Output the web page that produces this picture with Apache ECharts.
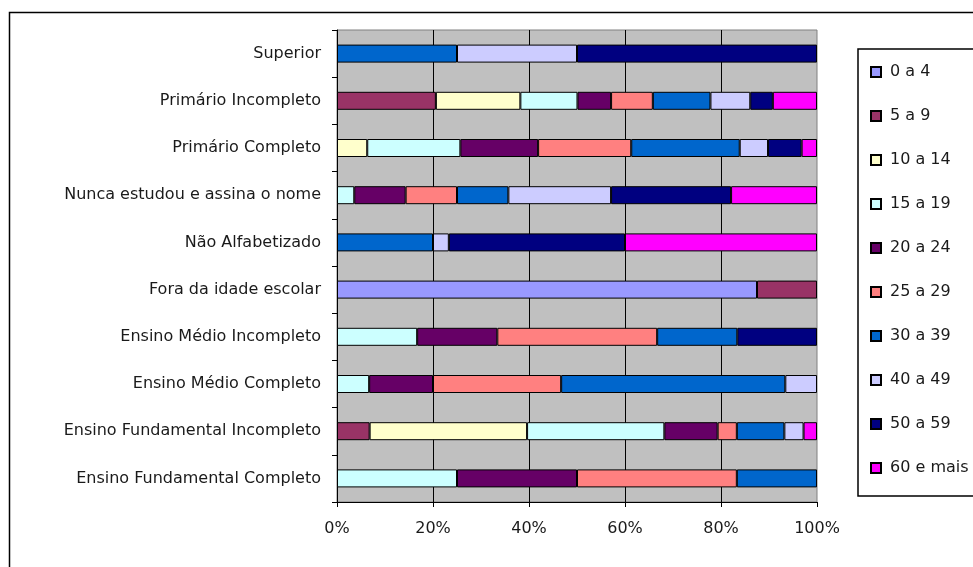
<!DOCTYPE html>
<html>
<head>
<meta charset="utf-8">
<script src="https://cdn.jsdelivr.net/npm/echarts@6/dist/echarts.min.js"></script>
<style>
  html, body { margin: 0; padding: 0; background: #fff; }
  #chart { width: 973px; height: 567px; }
</style>
</head>
<body>
<div id="chart"></div>
<script>
// Education level, listed from the bottom row of the chart to the top
const categories = [
  'Ensino Fundamental Completo',
  'Ensino Fundamental Incompleto',
  'Ensino Médio Completo',
  'Ensino Médio Incompleto',
  'Fora da idade escolar',
  'Não Alfabetizado',
  'Nunca estudou e assina o nome',
  'Primário Completo',
  'Primário Incompleto',
  'Superior'
];

// Age groups (legend order)
const ageGroups = ['0 a 4', '5 a 9', '10 a 14', '15 a 19', '20 a 24', '25 a 29', '30 a 39', '40 a 49', '50 a 59', '60 e mais'];

// Share (%) of each age group within every education level; null = none
const age0to4   = [null, null, null, null, 87.5, null, null, null, null, null];
const age5to9   = [null, 6.8, null, null, 12.5, null, null, null, 20.6, null];
const age10to14 = [null, 32.8, null, null, null, null, null, 6.3, 17.6, null];
const age15to19 = [25, 28.6, 6.7, 16.7, null, null, 3.6, 19.4, 11.9, null];
const age20to24 = [25, 11.1, 13.3, 16.7, null, null, 10.7, 16.2, 7.0, null];
const age25to29 = [33.3, 4.0, 26.7, 33.3, null, null, 10.7, 19.4, 8.7, null];
const age30to39 = [16.7, 9.9, 46.7, 16.7, null, 20, 10.7, 22.6, 12.0, 25];
const age40to49 = [null, 4.0, 6.6, null, null, 3.3, 21.4, 5.9, 8.3, 25];
const age50to59 = [null, null, null, 16.6, null, 36.7, 25, 7.0, 4.7, 50];
const age60plus = [null, 2.8, null, null, null, 40, 17.9, 3.2, 9.2, null];

const seriesValues = [age0to4, age5to9, age10to14, age15to19, age20to24, age25to29, age30to39, age40to49, age50to59, age60plus];

const palette = ['#9999FF', '#993366', '#FFFFCC', '#CCFFFF', '#660066', '#FF8080', '#0066CC', '#CCCCFF', '#000080', '#FF00FF'];

// Percentage axis ticks
const xTicks = { min: 0, max: 100, interval: 20 };

const FONT = 'DejaVu Sans';
const TEXT = '#1a1a1a';

const chart = echarts.init(document.getElementById('chart'), null, { renderer: 'canvas' });

chart.setOption({
  animation: false,
  backgroundColor: '#ffffff',
  textStyle: { fontFamily: FONT, color: TEXT },
  graphic: [{
    type: 'rect',
    left: 7, top: 10,
    shape: { x: 0, y: 0, width: 1000, height: 600 },
    style: { fill: 'none', stroke: '#000', lineWidth: 1.5 },
    silent: true,
    z: -10
  }],
  grid: {
    left: 337, right: 156, top: 30, bottom: 65,
    show: true,
    backgroundColor: '#C0C0C0',
    borderColor: '#808080',
    borderWidth: 1
  },
  legend: {
    orient: 'vertical',
    left: 858, top: 49,
    padding: [15, 30, 20, 12],
    borderColor: '#000',
    borderWidth: 1.5,
    itemWidth: 10, itemHeight: 10,
    itemGap: 28,
    icon: 'rect',
    data: ageGroups,
    textStyle: { fontFamily: FONT, fontSize: 16, lineHeight: 16, color: TEXT, padding: [0, 0, 0, 4] }
  },
  xAxis: {
    type: 'value',
    min: xTicks.min, max: xTicks.max, interval: xTicks.interval,
    axisLine: { show: true, lineStyle: { color: '#000', width: 1 } },
    axisTick: { show: true, length: 5, lineStyle: { color: '#000' } },
    axisLabel: { formatter: '{value}%', fontFamily: FONT, fontSize: 16, color: TEXT, margin: 19 },
    splitLine: { show: true, showMinLine: false, showMaxLine: false, lineStyle: { color: '#000', width: 1 } }
  },
  yAxis: {
    type: 'category',
    data: categories,
    axisLine: { show: true, lineStyle: { color: '#000', width: 1 } },
    axisTick: { show: true, length: 5, lineStyle: { color: '#000' } },
    axisLabel: { fontFamily: FONT, fontSize: 16, color: TEXT, margin: 16 },
    splitLine: { show: false }
  },
  series: ageGroups.map((name, i) => ({
    name: name,
    type: 'bar',
    stack: 'total',
    barWidth: 18,
    data: seriesValues[i],
    itemStyle: { color: palette[i], borderColor: '#000', borderWidth: 1 },
    emphasis: { disabled: true }
  }))
});
</script>
</body>
</html>
